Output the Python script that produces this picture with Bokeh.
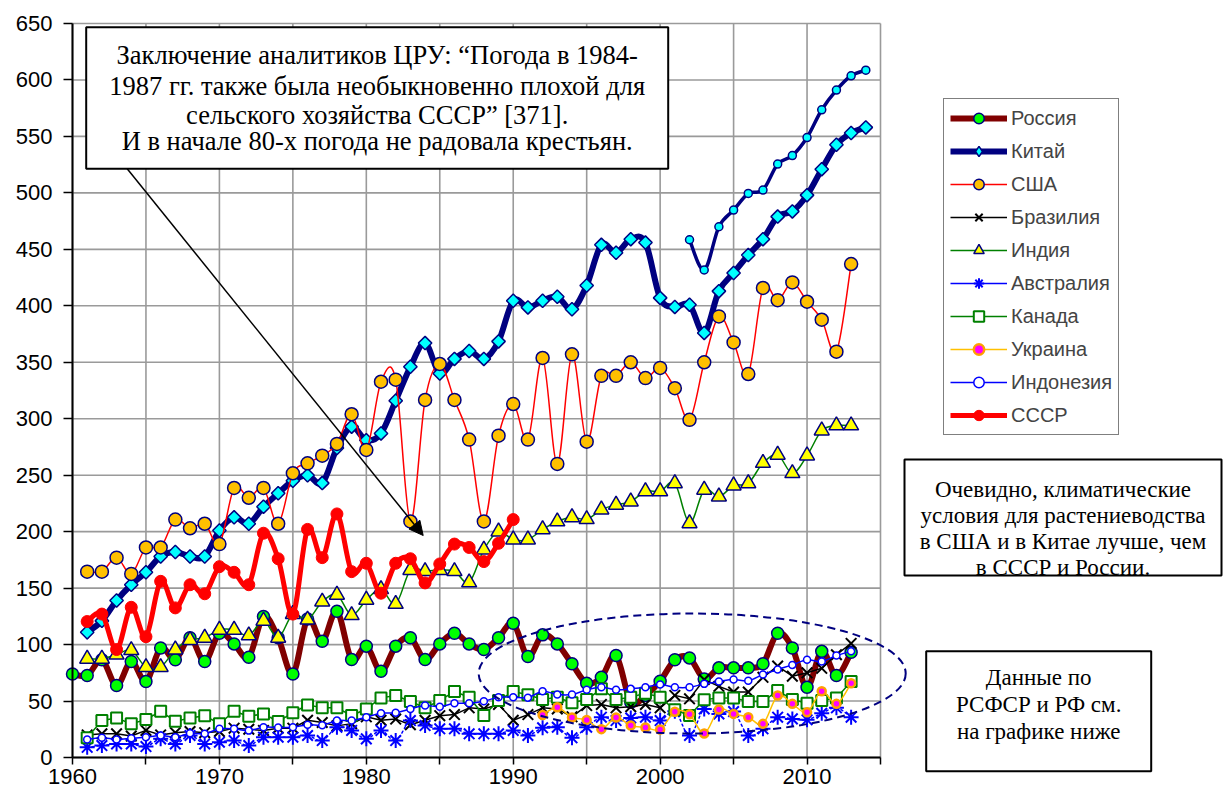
from bokeh.plotting import figure
from bokeh.models import (Range1d, FixedTicker, Legend, LegendItem, Arrow, NormalHead,
                          BoxAnnotation, Label, ColumnDataSource)
from bokeh.embed import file_html
from bokeh.resources import INLINE

# ---------------- data (grain production, million tonnes) ----------------
russia_years = list(range(1960, 2014))
russia = [74, 72.6, 86.5, 63.7, 85, 67.3, 97, 86.5, 106, 85,
          110, 100.6, 88.8, 124.8, 106, 74, 122.7, 103, 129.5, 86.7,
          98.6, 76.4, 98.6, 106, 86.7, 100.6, 110, 100.6, 95.6, 106,
          118.9, 89.4, 108.6, 100.6, 83, 65.8, 71, 90.3, 49, 55,
          67.6, 86.5, 88.2, 69.6, 79.4, 79.4, 79.4, 83, 110, 97,
          62.2, 94, 72.6, 93.2]

china_years = list(range(1961, 2015))
china = [110.9, 121, 139, 153, 164, 178, 182, 178, 178, 201,
         212.7, 207, 222, 234, 245, 250, 243, 274, 293, 281,
         287, 316, 346, 367, 340, 353, 360, 353, 368.5, 404.5,
         398.6, 404.5, 408, 397, 418, 454, 447, 459, 456, 407,
         399, 401, 376, 413, 429, 445, 459, 479, 483.6, 498,
         521, 542.6, 553, 558]

china2_years = list(range(2002, 2015))
china2 = [458.5, 431.7, 470, 484.8, 499.5, 502.5, 525.5, 533, 549, 573.6,
          591, 603.7, 608.7]

usa_years = list(range(1961, 2014))
usa = [164.6, 164.6, 177, 162.6, 186, 186, 210.7, 203, 207, 189,
       238.7, 230, 238.7, 207, 251.7, 260.5, 267.3, 277.7, 304, 272.4,
       332.8, 334.6, 209, 316.6, 348.5, 316.6, 281.5, 209, 285, 313,
       281.5, 353.8, 260, 357, 279.7, 338, 338, 350, 336, 345,
       327, 299, 350, 390.6, 367.6, 339.6, 415.8, 405, 420.7, 403.6,
       387.7, 359.4, 437]

brazil_years = list(range(1961, 2014))
brazil = [20, 21, 21, 19, 24, 20, 22, 23, 22, 23,
          26, 25, 24, 26, 26, 33, 31, 28, 30, 36,
          33, 34, 29, 33, 37, 38, 44, 43, 47, 33,
          38, 44, 43, 36, 46, 47, 44, 45, 47, 44,
          55, 52, 69, 63, 58, 58, 71, 81, 72, 75,
          79, 91, 101]

india_years = list(range(1961, 2014))
india = [87.4, 87.4, 91, 95, 80, 80, 95.6, 104, 106, 113,
         113, 108, 121, 106, 127, 122, 138, 144, 126, 139.6,
         149, 136, 166, 165, 166, 165, 155, 184, 200, 193,
         193, 202, 209, 212.7, 211, 219.5, 223.7, 226.6, 235.7, 235.7,
         242.8, 207.4, 237, 231, 240.8, 242.8, 260.8, 268, 251.7, 267.3,
         289.5, 294, 294]

australia_years = list(range(1961, 2014))
australia = [9, 10.6, 12, 12, 9.7, 16.5, 12, 19.5, 12, 13.6,
             15, 10.6, 18, 18, 18, 19.5, 15, 26.8, 24, 16.5,
             24, 15, 32.7, 28.3, 25.4, 25.4, 21, 21, 21, 24,
             19.5, 26.3, 26.8, 17.4, 26.8, 35.7, 32.7, 35, 35.7, 32.7,
             41, 19.5, 43, 38.6, 40.7, 19.5, 25.4, 35.7, 34.2, 33.4,
             39.2, 44, 35.7]

canada_years = list(range(1961, 2014))
canada = [17.4, 32.7, 35, 29.8, 33.6, 41, 32, 35, 37, 29.8,
          41, 36.6, 38.6, 31.9, 39.6, 46.6, 44, 44, 37.2, 43,
          52.8, 54.9, 49.6, 44, 50.5, 58.4, 53.4, 37.2, 50.5, 58.4,
          55.5, 51.3, 53.4, 48.4, 51.3, 60.8, 51.3, 53.4, 57, 53.4,
          42.2, 37.2, 51.2, 52.8, 52.8, 49.6, 49.6, 59.3, 51.3, 48,
          50.5, 52.8, 67.3]

ukraine_years = list(range(1992, 2014))
ukraine = [37.6, 44.5, 35.4, 33.3, 25.1, 35.4, 28.3, 26.6, 24.8, 40.5,
           38.2, 21.3, 42.5, 38.6, 35.7, 29.8, 54.9, 47.5, 40, 58.7,
           47.5, 65.8]

indonesia_years = list(range(1961, 2014))
indonesia = [16, 17.5, 16, 17, 18, 19.5, 18, 21.5, 21, 25.4,
             25.4, 23.8, 26.8, 26.5, 26.8, 29, 28.6, 32.7, 32.7, 35.7,
             39.2, 39.6, 43, 46, 45, 48, 48, 49.8, 53.4, 53.4,
             53, 58.7, 55.8, 55.8, 59.9, 62.2, 60, 60.8, 62.2, 64.6,
             62.2, 62.2, 65.2, 67.3, 69, 68, 73.5, 77.9, 82, 86.5,
             85, 90.3, 94]

ussr_years = list(range(1961, 1991))
ussr = [120.4, 127, 95.6, 133, 107, 156, 132.5, 153, 145, 169,
        164, 153, 198.6, 176, 127, 202, 177, 215.7, 164.6, 172,
        145.5, 172, 176, 154.6, 171.4, 189, 186, 173.5, 189.7, 210.7]

x_ticks = list(range(1960, 2016, 5))
y_ticks = list(range(0, 651, 50))

# ---------------- layout ----------------
W, H = 1223, 794
X0, Y0, YT = 72, 757, 23       # image column of 1960, rows of 0 and 650
PXY = 808 / 55                 # pixels per year
PXV = (Y0 - YT) / 650          # pixels per unit


def dx(ix):  # image x -> data x (for annotations only)
    return 1960 + (ix - X0) / PXY


def dy(iy):  # image y -> data y (for annotations only)
    return (Y0 - iy) / PXV


# the frame covers the whole canvas; both axes are pinned at (1960, 0)
p = figure(width=W, height=H, x_range=Range1d(dx(0), dx(W)), y_range=Range1d(dy(H), dy(0)),
           output_backend="svg", toolbar_location=None,
           min_border_left=0, min_border_right=0, min_border_top=0, min_border_bottom=0)
p.outline_line_color = None
p.xgrid.visible = False
p.ygrid.visible = False
p.background_fill_color = "white"

xa = p.xaxis[0]
xa.fixed_location = 0
xa.bounds = (1960, 2015)
xa.ticker = FixedTicker(ticks=x_ticks)
xa.major_label_overrides = {t: "" for t in x_ticks if t % 10 != 0}
ya = p.yaxis[0]
ya.fixed_location = 1960
ya.bounds = (0, 650)
ya.ticker = FixedTicker(ticks=y_ticks)
for ax in (xa, ya):
    ax.axis_line_color = "black"
    ax.axis_line_width = 2
    ax.major_tick_line_color = "black"
    ax.major_tick_line_width = 1.5
    ax.major_tick_in = 0
    ax.minor_tick_line_color = None
    ax.major_label_text_font = "Liberation Sans"
    ax.major_label_text_font_size = "22px"
    ax.major_label_text_color = "black"
xa.major_tick_out = 7
xa.major_label_standoff = 4
ya.major_tick_out = 9
ya.major_label_standoff = 11

# grid
GRID = "#9a9a9a"
p.segment(x0=x_ticks, y0=[y_ticks[0]] * len(x_ticks), x1=x_ticks, y1=[y_ticks[-1]] * len(x_ticks),
          line_color=GRID, line_width=1.6)
p.segment(x0=[x_ticks[0]] * len(y_ticks), y0=y_ticks, x1=[x_ticks[-1]] * len(y_ticks), y1=y_ticks,
          line_color=GRID, line_width=1.6)


def smooth_source(xs, ys):
    n = len(xs)
    d = dict(x0=[], y0=[], x1=[], y1=[], cx0=[], cy0=[], cx1=[], cy1=[])
    for i in range(n - 1):
        xp, yp = (xs[i - 1], ys[i - 1]) if i > 0 else (xs[i], ys[i])
        xn, yn = (xs[i + 2], ys[i + 2]) if i + 2 < n else (xs[i + 1], ys[i + 1])
        d["x0"].append(xs[i]); d["y0"].append(ys[i])
        d["x1"].append(xs[i + 1]); d["y1"].append(ys[i + 1])
        d["cx0"].append(xs[i] + (xs[i + 1] - xp) / 6)
        d["cy0"].append(ys[i] + (ys[i + 1] - yp) / 6)
        d["cx1"].append(xs[i + 1] - (xn - xs[i]) / 6)
        d["cy1"].append(ys[i + 1] - (yn - ys[i]) / 6)
    return ColumnDataSource(d)


items = []


def series(name, xs, ys, color, width, smooth, marker, size, fill, mline, mwidth,
           dash="solid", angle=0.0, legend_marker=None, legend_size=None):
    if smooth:
        p.bezier(x0="x0", y0="y0", x1="x1", y1="y1", cx0="cx0", cy0="cy0", cx1="cx1", cy1="cy1",
                 source=smooth_source(xs, ys), line_color=color, line_width=width,
                 line_cap="round", line_dash=dash)
    else:
        p.line(xs, ys, line_color=color, line_width=width, line_join="round")
    lm = None
    if legend_marker is not None:
        # drawn first, hidden under the first real marker; only used for the legend swatch
        lm = p.scatter(xs[:1], ys[:1], marker=legend_marker, size=legend_size, fill_color=fill,
                       line_color=mline, line_width=mwidth)
    sc = p.scatter(xs, ys, marker=marker, size=size, fill_color=fill, line_color=mline,
                   line_width=mwidth, angle=angle)
    if name:
        # single-point line: draws nothing in the plot, gives the legend its line swatch
        lg = p.line(xs[:1], ys[:1], line_color=color, line_width=width)
        items.append(LegendItem(label=name, renderers=[lg, lm if lm is not None else sc]))


NAVY = "#000080"
series("Россия", russia_years, russia, "#800000", 6, True, "circle", 12, "#00ff00", NAVY, 1.5)
series("Китай", china_years, china, NAVY, 6, True, "square", 9.5, "#00ffff", NAVY, 1.5,
       angle=0.785398, legend_marker="diamond", legend_size=13)
series(None, china2_years, china2, NAVY, 3.5, True, "circle", 8, "#00ffff", NAVY, 1.5)
series("США", usa_years, usa, "#ff0000", 1.5, True, "circle", 13, "#ffc000", NAVY, 1.5)
series("Бразилия", brazil_years, brazil, "black", 1.5, False, "x", 15, None, "black", 2)
series("Индия", india_years, india, "#008000", 1.5, True, "triangle", 15, "#ffff00", NAVY, 1.5)
series("Австралия", australia_years, australia, "#0000ff", 1.5, True, "asterisk", 15, None, "#0000ff", 2,
       dash="2 3")
series("Канада", canada_years, canada, "#008000", 1.5, False, "square", 11, "white", "#008000", 2)
series("Украина", ukraine_years, ukraine, "#ffc000", 1.5, True, "circle", 8, "#ff00ff", "#ffa000", 2.5)
series("Индонезия", indonesia_years, indonesia, "#0000ff", 1.5, True, "circle", 7, "white", "#0000ff", 1.5)
series("СССР", ussr_years, ussr, "#ff0000", 5, True, "circle", 12, "#ff0000", "#ff0000", 1)

# dashed ellipse around recent small producers
p.ellipse(x=[dx(691.7)], y=[dy(673)], width=[427 / PXY], height=[120 / PXV],
          fill_color=None, line_color=NAVY, line_width=2, line_dash="8 5")

legend = Legend(items=items, location=(943, H - 435), label_text_font="Liberation Sans",
                label_text_font_size="20px", glyph_width=57, glyph_height=26, label_height=26,
                spacing=7, padding=6, label_standoff=4, border_line_color="black",
                border_line_width=1.5, background_fill_color="white", background_fill_alpha=1,
                margin=0)
p.add_layout(legend)

# arrow from box to the 1984-87 period
p.add_layout(Arrow(end=NormalHead(size=14, fill_color="black", line_color="black"),
                   x_start=dx(126.7), y_start=dy(168.3), x_end=dx(422.7), y_end=dy(535),
                   line_color="black", line_width=1.5))


def text_box(left, right, top, bottom, lines, baselines, size):
    p.add_layout(BoxAnnotation(left=dx(left), right=dx(right), top=dy(top), bottom=dy(bottom),
                               fill_color="white", fill_alpha=1, line_color="black",
                               line_width=2, line_alpha=1))
    cx = dx((left + right) / 2)
    for t, b in zip(lines, baselines):
        p.add_layout(Label(x=cx, y=dy(b), text=t, text_align="center", text_baseline="alphabetic",
                           text_font="Liberation Serif", text_font_size=size, text_color="black"))


text_box(85.7, 667.7, 26.7, 168.3,
         ["Заключение аналитиков ЦРУ: “Погода в 1984-",
          "1987 гг. также была необыкновенно плохой для",
          "сельского хозяйства СССР” [371].",
          "И в начале 80-х погода не радовала крестьян."],
         [54, 85, 114, 140], "26.5px")
text_box(904, 1221, 459, 575,
         ["Очевидно, климатические",
          "условия для растениеводства",
          "в США и в Китае лучше, чем",
          "в СССР и России."],
         [489, 515, 541, 567], "23px")
text_box(925.7, 1150.7, 650.7, 770.7,
         ["Данные по", "РСФСР и РФ см.", "на графике ниже"],
         [677, 704, 731], "23px")

open("out.html", "w").write(file_html(p, INLINE))
